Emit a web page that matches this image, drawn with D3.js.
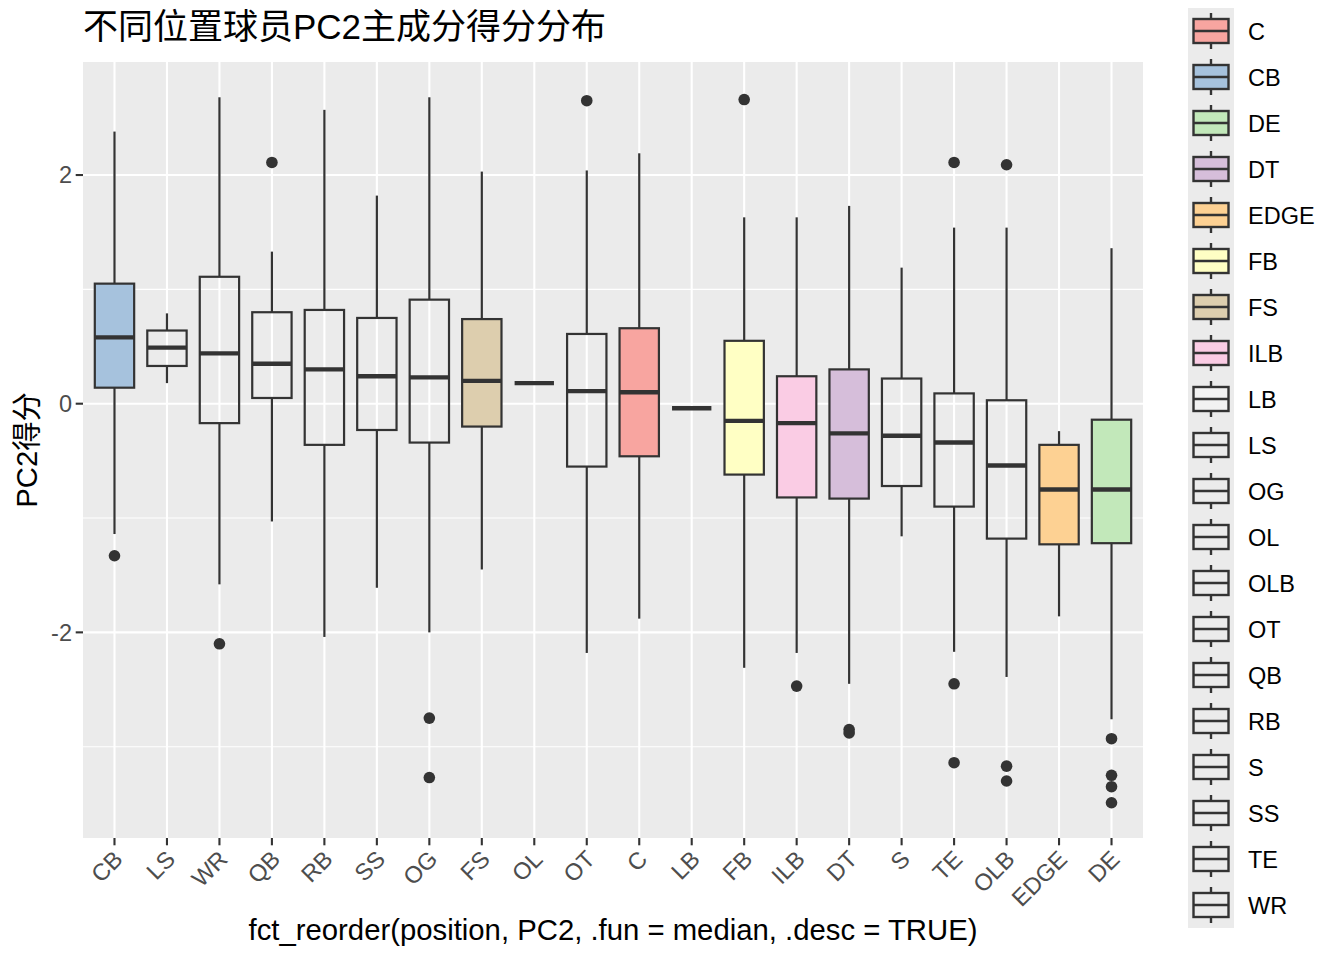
<!DOCTYPE html>
<html>
<head>
<meta charset="utf-8">
<script src="https://cdn.jsdelivr.net/npm/d3@7"></script>
<style>
  body { margin: 0; background: #fff; }
  svg { display: block; }
  text { font-family: "Liberation Sans", Arial, "Noto Sans CJK SC", sans-serif; }
</style>
</head>
<body>
<div id="chart"></div>
<script>
// category order on the x axis (reordered by median, descending)
const positions = ["CB", "LS", "WR", "QB", "RB", "SS", "OG", "FS", "OL", "OT",
                   "C", "LB", "FB", "ILB", "DT", "S", "TE", "OLB", "EDGE", "DE"];

// five-number summaries
const whiskerHi = [2.38, 0.79, 2.68, 1.33, 2.57, 1.82, 2.68, 2.03, 0.18, 2.04,
                   2.19, -0.04, 1.63, 1.63, 1.73, 1.19, 1.54, 1.54, -0.24, 1.36];
const q3 =        [1.05, 0.64, 1.11, 0.80, 0.82, 0.75, 0.91, 0.74, 0.18, 0.61,
                   0.66, -0.04, 0.55, 0.24, 0.30, 0.22, 0.09, 0.03, -0.36, -0.14];
const medians =   [0.58, 0.49, 0.44, 0.35, 0.30, 0.24, 0.23, 0.20, 0.18, 0.11,
                   0.10, -0.04, -0.15, -0.17, -0.26, -0.28, -0.34, -0.54, -0.75, -0.75];
const q1 =        [0.14, 0.33, -0.17, 0.05, -0.36, -0.23, -0.34, -0.20, 0.18, -0.55,
                   -0.46, -0.04, -0.62, -0.82, -0.83, -0.72, -0.90, -1.18, -1.23, -1.22];
const whiskerLo = [-1.14, 0.18, -1.58, -1.03, -2.04, -1.61, -2.00, -1.45, 0.18, -2.18,
                   -1.88, -0.04, -2.31, -2.18, -2.45, -1.16, -2.17, -2.39, -1.86, -2.76];
const outliers =  [[-1.33], [], [-2.10], [2.11], [], [], [-2.75, -3.27], [], [], [2.65],
                   [], [], [2.66], [-2.47], [-2.85, -2.88], [], [2.11, -2.45, -3.14],
                   [2.09, -3.17, -3.30], [], [-2.93, -3.25, -3.35, -3.49]];

// legend (alphabetical levels) and fills; levels past the palette get no fill
const legendLevels = ["C", "CB", "DE", "DT", "EDGE", "FB", "FS", "ILB", "LB", "LS",
                      "OG", "OL", "OLB", "OT", "QB", "RB", "S", "SS", "TE", "WR"];
const palette = ["#F8A5A0", "#A6C2DD", "#C2E8BA", "#D6BEDA", "#FDD193",
                 "#FFFFC4", "#DDCEAE", "#FACCE4", "#F2F2F2"];

const yTicks = [-2, 0, 2];
const yMinor = [-3, -1, 1];

const width = 1344, height = 960;
const margin = { top: 62, right: 201, bottom: 122, left: 83 };
const panelW = width - margin.left - margin.right;
const panelH = height - margin.top - margin.bottom;

const fill = d3.scaleOrdinal().domain(legendLevels)
  .range(legendLevels.map((d, i) => i < palette.length ? palette[i] : "none"));

const svg = d3.select("#chart").append("svg")
  .attr("width", width)
  .attr("height", height);

const g = svg.append("g").attr("transform", `translate(${margin.left},${margin.top})`);

// discrete x scale with ggplot-like 0.6 expansion on both sides
const x = d3.scalePoint().domain(positions).range([0, panelW]).padding(0.6);
const step = x.step();

const allVals = whiskerHi.concat(whiskerLo, outliers.flat());
const lo = d3.min(allVals), hi = d3.max(allVals);
const pad = (hi - lo) * 0.05;
const y = d3.scaleLinear().domain([lo - pad, hi + pad]).range([panelH, 0]);

// panel background and grid
g.append("rect").attr("width", panelW).attr("height", panelH).attr("fill", "#EBEBEB");

g.selectAll(".minor").data(yMinor).enter().append("line")
  .attr("x1", 0).attr("x2", panelW)
  .attr("y1", d => y(d)).attr("y2", d => y(d))
  .attr("stroke", "#fff").attr("stroke-width", 1.1);

g.selectAll(".majorY").data(yTicks).enter().append("line")
  .attr("x1", 0).attr("x2", panelW)
  .attr("y1", d => y(d)).attr("y2", d => y(d))
  .attr("stroke", "#fff").attr("stroke-width", 2.1);

g.selectAll(".majorX").data(positions).enter().append("line")
  .attr("x1", d => x(d)).attr("x2", d => x(d))
  .attr("y1", 0).attr("y2", panelH)
  .attr("stroke", "#fff").attr("stroke-width", 2.1);

// boxplots
const boxW = step * 0.75;
const stroke = "#333333";
const boxes = g.selectAll(".box").data(positions).enter().append("g");

boxes.append("line")
  .attr("x1", d => x(d)).attr("x2", d => x(d))
  .attr("y1", (d, i) => y(whiskerHi[i])).attr("y2", (d, i) => y(q3[i]))
  .attr("stroke", stroke).attr("stroke-width", 2.2);

boxes.append("line")
  .attr("x1", d => x(d)).attr("x2", d => x(d))
  .attr("y1", (d, i) => y(q1[i])).attr("y2", (d, i) => y(whiskerLo[i]))
  .attr("stroke", stroke).attr("stroke-width", 2.2);

boxes.append("rect")
  .attr("x", d => x(d) - boxW / 2)
  .attr("width", boxW)
  .attr("y", (d, i) => y(q3[i]))
  .attr("height", (d, i) => y(q1[i]) - y(q3[i]))
  .attr("fill", d => fill(d))
  .attr("stroke", stroke).attr("stroke-width", 2.2);

boxes.append("line")
  .attr("x1", d => x(d) - boxW / 2).attr("x2", d => x(d) + boxW / 2)
  .attr("y1", (d, i) => y(medians[i])).attr("y2", (d, i) => y(medians[i]))
  .attr("stroke", stroke).attr("stroke-width", 4.4);

boxes.each(function (d, i) {
  d3.select(this).selectAll("circle").data(outliers[i]).enter().append("circle")
    .attr("cx", x(d)).attr("cy", v => y(v)).attr("r", 5.8)
    .attr("fill", stroke);
});

// y axis
const axisCol = "#333333", labelCol = "#4D4D4D";
g.selectAll(".yt").data(yTicks).enter().append("line")
  .attr("x1", -7.3).attr("x2", 0)
  .attr("y1", d => y(d)).attr("y2", d => y(d))
  .attr("stroke", axisCol).attr("stroke-width", 2.1);
g.selectAll(".yl").data(yTicks).enter().append("text")
  .attr("x", -11).attr("y", d => y(d)).attr("dy", "0.35em")
  .attr("text-anchor", "end").attr("font-size", 23.5).attr("fill", labelCol)
  .text(d => d);

// x axis
g.selectAll(".xt").data(positions).enter().append("line")
  .attr("x1", d => x(d)).attr("x2", d => x(d))
  .attr("y1", panelH).attr("y2", panelH + 7.3)
  .attr("stroke", axisCol).attr("stroke-width", 2.1);
g.selectAll(".xl").data(positions).enter().append("text")
  .attr("transform", d => `translate(${x(d) - 2},${panelH + 11}) rotate(-45)`)
  .attr("text-anchor", "end").attr("dy", "0.7em")
  .attr("font-size", 23.5).attr("fill", labelCol)
  .text(d => d);

// titles
svg.append("text")
  .attr("x", margin.left).attr("y", 39)
  .attr("font-size", 35).attr("fill", "#000")
  .text("不同位置球员PC2主成分得分分布");

svg.append("text")
  .attr("x", margin.left + panelW / 2).attr("y", 940)
  .attr("text-anchor", "middle").attr("font-size", 29.3).attr("fill", "#000")
  .text("fct_reorder(position, PC2, .fun = median, .desc = TRUE)");

svg.append("text")
  .attr("transform", `translate(37,${margin.top + panelH / 2}) rotate(-90)`)
  .attr("text-anchor", "middle").attr("font-size", 29.3).attr("fill", "#000")
  .text("PC2得分");

// legend
const keyH = 46, keyW = 46, legX = 1188, legY = 8;
const leg = svg.append("g").attr("transform", `translate(${legX},${legY})`);
leg.append("rect").attr("width", keyW).attr("height", keyH * legendLevels.length).attr("fill", "#EBEBEB");
const keys = leg.selectAll(".key").data(legendLevels).enter().append("g")
  .attr("transform", (d, i) => `translate(0,${i * keyH})`);
keys.append("line")
  .attr("x1", keyW / 2).attr("x2", keyW / 2).attr("y1", 5).attr("y2", keyH - 5)
  .attr("stroke", stroke).attr("stroke-width", 2.4);
keys.append("rect")
  .attr("x", 5.5).attr("y", 11).attr("width", keyW - 11).attr("height", keyH - 22)
  .attr("fill", d => fill(d) === "none" ? "#EBEBEB" : fill(d))
  .attr("stroke", stroke).attr("stroke-width", 2.4);
keys.append("line")
  .attr("x1", 5.5).attr("x2", keyW - 5.5).attr("y1", keyH / 2).attr("y2", keyH / 2)
  .attr("stroke", stroke).attr("stroke-width", 2.4);
keys.append("text")
  .attr("x", 60).attr("y", keyH / 2 + 1).attr("dy", "0.35em")
  .attr("font-size", 23.5).attr("fill", "#000")
  .text(d => d);
</script>
</body>
</html>
